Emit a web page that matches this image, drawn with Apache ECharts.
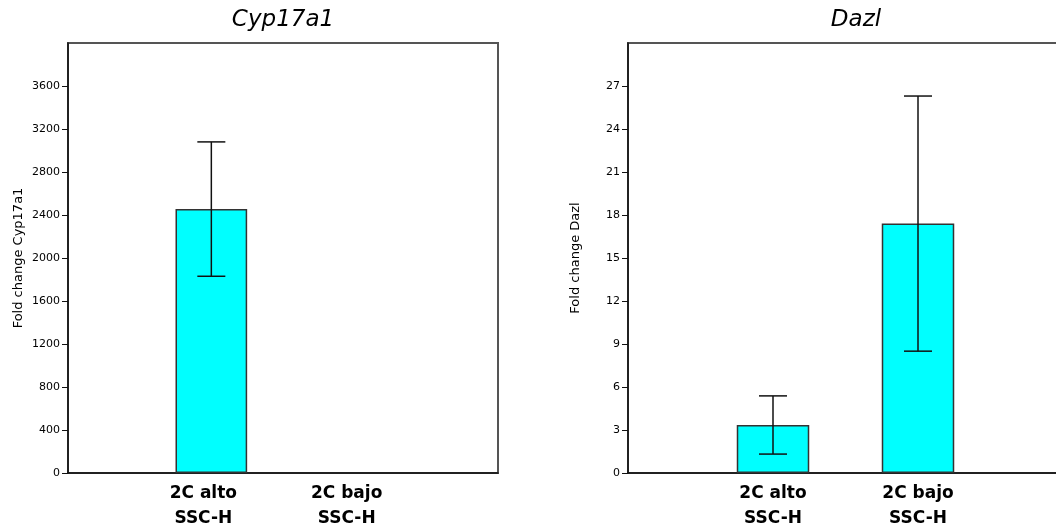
<!DOCTYPE html>
<html>
<head>
<meta charset="utf-8">
<script src="https://cdn.jsdelivr.net/npm/echarts@6/dist/echarts.min.js"></script>
<style>html,body{margin:0;padding:0;background:#fff}#c{width:1056px;height:527px}</style>
</head>
<body>
<div id="c"></div>
<script>
const categories = ['2C alto\nSSC-H', '2C bajo\nSSC-H'];
const cypMean = [2455, null];
const cypSD = [625, null];
const dazlMean = [3.35, 17.4];
const dazlSD = [2.03, 8.9];
const cypAxis = { min: 0, max: 4000, interval: 400 };
const dazlAxis = { min: 0, max: 30, interval: 3 };
const titles = ['Cyp17a1', 'Dazl'];
const yNames = ['Fold change Cyp17a1', 'Fold change Dazl'];

const FONT = 'DejaVu Sans';
const axisData = [''].concat(categories, ['']);
const barData = m => [null].concat(m, [null]);
const errData = (m, s) => m.map((v, i) => v == null ? null : [i + 1, v + s[i], v - s[i]]).filter(d => d);

function errRender(params, api) {
  const x = api.value(0);
  const top = api.coord([x, api.value(1)]);
  const bot = api.coord([x, api.value(2)]);
  const hw = 14;
  const st = { stroke: '#111', lineWidth: 1.5 };
  return { type: 'group', children: [
    { type: 'line', shape: { x1: top[0], y1: top[1], x2: bot[0], y2: bot[1] }, style: st },
    { type: 'line', shape: { x1: top[0] - hw, y1: top[1], x2: top[0] + hw, y2: top[1] }, style: st },
    { type: 'line', shape: { x1: bot[0] - hw, y1: bot[1], x2: bot[0] + hw, y2: bot[1] }, style: st }
  ]};
}

function xAx(idx, pad) {
  return {
    type: 'category', gridIndex: idx, data: axisData, boundaryGap: false,
    axisLine: { lineStyle: { color: '#111', width: 1.5 } },
    axisTick: { show: false },
    splitLine: { show: false },
    axisLabel: { interval: 0, color: '#000', fontFamily: FONT, fontWeight: 'bold', fontSize: 17, lineHeight: 25, margin: 8, padding: pad }
  };
}
function yAx(idx, a, name, gap) {
  return {
    type: 'value', gridIndex: idx, min: a.min, max: a.max, interval: a.interval,
    name: name, nameLocation: 'middle', nameGap: gap, nameRotate: 90,
    nameTextStyle: { color: '#000', fontFamily: FONT, fontSize: 13 },
    axisLine: { show: true, lineStyle: { color: '#111', width: 1.5 } },
    axisTick: { show: true, length: 6, lineStyle: { color: '#111', width: 1 } },
    splitLine: { show: false },
    axisLabel: { showMaxLabel: false, color: '#000', fontFamily: FONT, fontSize: 11, margin: 8,
      formatter: v => String(v) }
  };
}
const barStyle = { color: '#00FFFF', borderColor: '#333', borderWidth: 1.5 };

const chart = echarts.init(document.getElementById('c'), null, { renderer: 'canvas' });
chart.setOption({
  animation: false,
  backgroundColor: '#fff',
  title: [
    { text: titles[0], left: 283, top: 9, textAlign: 'center', padding: 0,
      textStyle: { fontFamily: FONT, fontStyle: 'italic', fontWeight: 'normal', fontSize: 23, color: '#000' } },
    { text: titles[1], left: 856, top: 9, textAlign: 'center', padding: 0,
      textStyle: { fontFamily: FONT, fontStyle: 'italic', fontWeight: 'normal', fontSize: 23, color: '#000' } }
  ],
  grid: [
    { left: 68, top: 43, width: 430, height: 430, show: true, borderColor: '#555', borderWidth: 2, containLabel: false, outerBoundsMode: 'none' },
    { left: 628, top: 43, width: 435, height: 430, show: true, borderColor: '#555', borderWidth: 2, containLabel: false, outerBoundsMode: 'none' }
  ],
  xAxis: [xAx(0, [0, 16, 0, 0]), xAx(1, 0)],
  yAxis: [yAx(0, cypAxis, yNames[0], 43), yAx(1, dazlAxis, yNames[1], 46)],
  series: [
    { type: 'bar', xAxisIndex: 0, yAxisIndex: 0, data: barData(cypMean), barWidth: '50%', itemStyle: barStyle, z: 2 },
    { type: 'bar', xAxisIndex: 1, yAxisIndex: 1, data: barData(dazlMean), barWidth: '50%', itemStyle: barStyle, z: 2 },
    { type: 'custom', xAxisIndex: 0, yAxisIndex: 0, data: errData(cypMean, cypSD), renderItem: errRender, z: 5 },
    { type: 'custom', xAxisIndex: 1, yAxisIndex: 1, data: errData(dazlMean, dazlSD), renderItem: errRender, z: 5 }
  ]
});
</script>
</body>
</html>
